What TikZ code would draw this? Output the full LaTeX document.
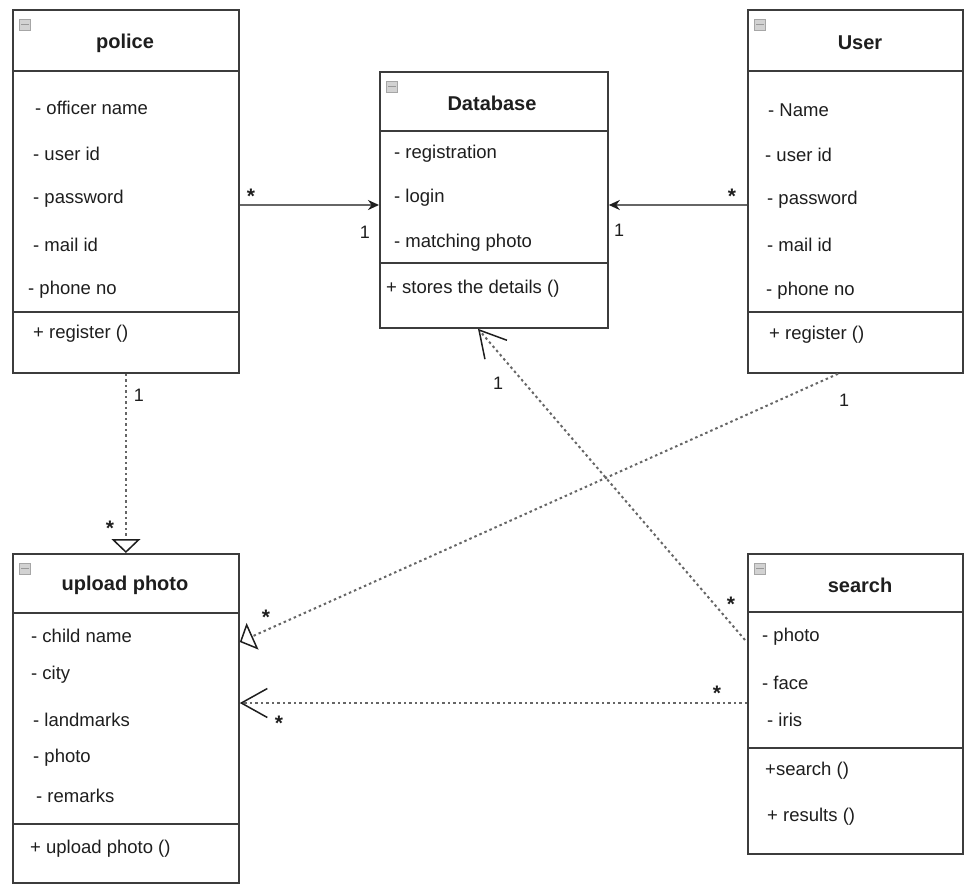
\documentclass[tikz,border=0pt]{standalone}
\usepackage{fontspec}
\setmainfont{Liberation Sans}
\usetikzlibrary{arrows.meta,calc}
\definecolor{boxline}{HTML}{3C3C3C}
\definecolor{txt}{HTML}{1E1E1E}
\definecolor{conn}{HTML}{666666}
\begin{document}
\begin{tikzpicture}[x=1pt,y=-1pt,
 box/.style={draw=boxline,line width=1.8pt,fill=white,rectangle,anchor=north west,inner sep=0pt},
 sep/.style={draw=boxline,line width=1.8pt},
 title/.style={font=\fontsize{20}{22}\selectfont\bfseries,text=txt,anchor=center,inner sep=0pt},
 attr/.style={font=\fontsize{18.5}{20}\selectfont,text=txt,anchor=west,inner sep=0pt},
 mult/.style={font=\fontsize{18}{20}\selectfont,text=txt,anchor=center,inner sep=0pt},
 star/.style={font=\fontsize{21}{22}\selectfont\bfseries,text=txt,anchor=center,inner sep=0pt},
 icon/.style={draw=gray!70,fill=gray!35,line width=0.7pt,minimum size=11pt,inner sep=0pt,anchor=north west},
 solidconn/.style={draw=conn,line width=2.2pt,-{Stealth[length=11pt,width=10pt,color=txt]}},
 dotconn/.style={draw=conn,line width=2pt,dash pattern=on 2.5pt off 3pt},
 realize/.style={-{Triangle[open,length=14pt,width=29pt,line width=1.5pt,color=txt,fill=white]}},
 depend/.style={-{Straight Barb[length=26pt,width=29pt,line width=1.5pt,color=txt]}},
]
\useasboundingbox (0,0) rectangle (964,884);

% ---------- boxes ----------
\node[box,minimum width=226pt,minimum height=363pt] (police) at (12,9) {};
\node[box,minimum width=228pt,minimum height=256pt] (db) at (379,71) {};
\node[box,minimum width=215pt,minimum height=363pt] (user) at (747,9) {};
\node[box,minimum width=226pt,minimum height=329pt] (upload) at (12,553) {};
\node[box,minimum width=215pt,minimum height=300pt] (search) at (747,553) {};

% separators
\draw[sep] ($(police.north west)+(0,62)$) -- ($(police.north east)+(0,62)$);
\draw[sep] ($(police.north west)+(0,303)$) -- ($(police.north east)+(0,303)$);
\draw[sep] ($(db.north west)+(0,60)$) -- ($(db.north east)+(0,60)$);
\draw[sep] ($(db.north west)+(0,192)$) -- ($(db.north east)+(0,192)$);
\draw[sep] ($(user.north west)+(0,62)$) -- ($(user.north east)+(0,62)$);
\draw[sep] ($(user.north west)+(0,303)$) -- ($(user.north east)+(0,303)$);
\draw[sep] ($(upload.north west)+(0,60)$) -- ($(upload.north east)+(0,60)$);
\draw[sep] ($(upload.north west)+(0,271)$) -- ($(upload.north east)+(0,271)$);
\draw[sep] ($(search.north west)+(0,59)$) -- ($(search.north east)+(0,59)$);
\draw[sep] ($(search.north west)+(0,195)$) -- ($(search.north east)+(0,195)$);

% icons
\foreach \n in {police,db,user,upload,search}{
  \node[icon] (\n-icon) at ($(\n.north west)+(7,10)$) {};
  \draw[gray!80,line width=0.9pt] ($(\n-icon.west)+(2,0)$) -- ($(\n-icon.east)+(-2,0)$);
}

% ---------- texts ----------
\node[title] (police-t) at (125,43) {police};
\node[attr] (police-a1) at (35,108) {- officer name};
\node[attr] (police-a2) at (33,154) {- user id};
\node[attr] (police-a3) at (33,199) {- password};
\node[attr] (police-a4) at (33,245) {- mail id};
\node[attr] (police-a5) at (28,290) {- phone no};
\node[attr] (police-m1) at (33,334) {+ register ()};

\node[title] (db-t) at (492,103) {Database};
\node[attr] (db-a1) at (394,154) {- registration};
\node[attr] (db-a2) at (394,198) {- login};
\node[attr] (db-a3) at (394,243) {- matching photo};
\node[attr] (db-m1) at (386,289) {+ stores the details ()};

\node[title] (user-t) at (860,43) {User};
\node[attr] (user-a1) at (768,110) {- Name};
\node[attr] (user-a2) at (765,155) {- user id};
\node[attr] (user-a3) at (767,200) {- password};
\node[attr] (user-a4) at (767,245) {- mail id};
\node[attr] (user-a5) at (766,291) {- phone no};
\node[attr] (user-m1) at (769,335) {+ register ()};

\node[title] (upload-t) at (125,585) {upload photo};
\node[attr] (upload-a1) at (31,636) {- child name};
\node[attr] (upload-a2) at (31,675) {- city};
\node[attr] (upload-a3) at (33,720) {- landmarks};
\node[attr] (upload-a4) at (33,758) {- photo};
\node[attr] (upload-a5) at (36,796) {- remarks};
\node[attr] (upload-m1) at (30,849) {+ upload photo ()};

\node[title] (search-t) at (860,585) {search};
\node[attr] (search-a1) at (762,637) {- photo};
\node[attr] (search-a2) at (762,683) {- face};
\node[attr] (search-a3) at (767,720) {- iris};
\node[attr] (search-m1) at (765,771) {+search ()};
\node[attr] (search-m2) at (767,817) {+ results ()};

% ---------- connector end points ----------
\coordinate (pdA) at ($(police.north east)+(0,196)$);
\coordinate (pdB) at ($(db.north west)+(0,134)$);
\coordinate (udA) at ($(user.north west)+(0,196)$);
\coordinate (udB) at ($(db.north east)+(0,134)$);
\coordinate (uuA) at ($(user.south west)+(91,0)$);
\coordinate (uuB) at ($(upload.north east)+(0,89)$);
\coordinate (sdA) at ($(search.north west)+(-2,87)$);
\coordinate (sdB) at ($(db.south west)+(99,0)$);
\coordinate (suA) at ($(search.north west)+(0,150)$);
\coordinate (suB) at ($(upload.north east)+(0,150)$);

% ---------- connectors ----------
\draw[solidconn] (pdA) -- (pdB);
\draw[solidconn] (udA) -- (udB);
\draw[dotconn,realize] (police.south) -- (upload.north);
\draw[dotconn,realize] (uuA) -- (uuB);
\draw[dotconn,depend] (sdA) -- (sdB);
\draw[dotconn,depend] (suA) -- (suB);

% ---------- multiplicities ----------
\node[star] (m1) at (251,196) {*};
\node[mult] (m2) at (365,232) {1};
\node[star] (m3) at (732,196) {*};
\node[mult] (m4) at (619,230) {1};
\node[mult] (m5) at (139,395) {1};
\node[star] (m6) at (110,528) {*};
\node[mult] (m7) at (844,400) {1};
\node[star] (m8) at (266,617) {*};
\node[mult] (m9) at (498,383) {1};
\node[star] (m10) at (731,604) {*};
\node[star] (m11) at (717,693) {*};
\node[star] (m12) at (279,723) {*};
\end{tikzpicture}
\end{document}
